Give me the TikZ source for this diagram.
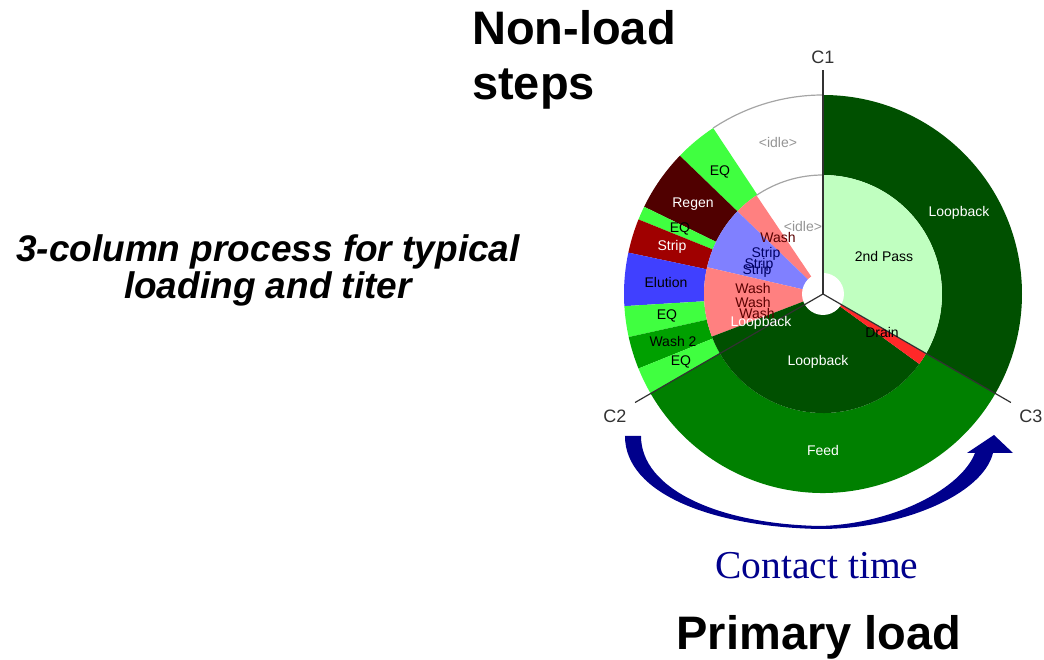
\documentclass[tikz,border=0pt]{standalone}
\usepackage{fontspec}
\setmainfont{Liberation Sans}
\newfontfamily\contactfont{Liberation Serif}
\definecolor{eqgreen}{RGB}{64,255,64}
\definecolor{regenred}{RGB}{80,0,0}
\definecolor{stripred}{RGB}{160,0,0}
\definecolor{elutionblue}{RGB}{64,64,255}
\definecolor{washgreen}{RGB}{0,160,0}
\definecolor{feedgreen}{RGB}{0,128,0}
\definecolor{loopgreen}{RGB}{0,80,0}
\definecolor{passgreen}{RGB}{192,255,192}
\definecolor{washpink}{RGB}{255,128,128}
\definecolor{stripblue}{RGB}{128,128,255}
\definecolor{drainred}{RGB}{255,40,40}
\definecolor{arrownavy}{RGB}{0,0,140}
\definecolor{idlegray}{RGB}{165,165,165}
\definecolor{hubgray}{RGB}{50,50,50}
\definecolor{washtext}{RGB}{90,0,0}
\definecolor{striptext}{RGB}{0,0,100}
\usetikzlibrary{positioning}

\begin{document}
\begin{tikzpicture}[x=1pt,y=1pt,
	lbl/.style={font=\fontsize{14}{15}\selectfont,inner sep=0pt},
	wlbl/.style={lbl,text=white},
	idlelbl/.style={lbl,text=idlegray!90!black},
	collbl/.style={font=\fontsize{18}{20}\selectfont,text=hubgray,inner sep=0pt},
	bigtext/.style={font=\fontsize{47}{50}\selectfont\bfseries,inner sep=0pt},
	sidetext/.style={font=\fontsize{37}{40}\selectfont\bfseries\itshape,inner sep=0pt},
	hubline/.style={hubgray,line width=1.2pt},
	idlearc/.style={idlegray,line width=1.2pt}]
	\useasboundingbox (-823,-366) rectangle (221,294);
	
	% outer ring
	\foreach \a/\b/\c in {123.5/136/eqgreen,136/154/regenred,154/158/eqgreen,
		158/168/stripred,168/183.5/elutionblue,183.5/192.5/eqgreen,
		192.5/202/washgreen,202/210/eqgreen,210/330/feedgreen,330/450/loopgreen}
	\fill[\c] (\a:119) arc[start angle=\a,end angle=\b,radius=119]
		-- (\b:199) arc[start angle=\b,end angle=\a,radius=199] -- cycle;
	% inner ring
	\foreach \a/\b/\c in {124/136/washpink,136/167/stripblue,167/201/washpink,
		201/324/loopgreen,324/330/drainred,330/450/passgreen}
	\fill[\c] (0,0) -- (\a:119) arc[start angle=\a,end angle=\b,radius=119] -- cycle;
	\draw[idlearc] (90:199) arc[start angle=90,end angle=123.5,radius=199];
	\draw[idlearc] (90:119) arc[start angle=90,end angle=124,radius=119];
	
	% hub and column lines
	\coordinate (hub) at (0,0);
	\fill[white] (hub) circle[radius=21];
	\coordinate (c1end) at (90:224);
	\coordinate (c2end) at (210:217);
	\coordinate (c3end) at (330:217);
	\draw[hubline] (hub) -- (c1end);
	\draw[hubline] (hub) -- (c2end);
	\draw[hubline] (hub) -- (c3end);
	\node[collbl] (c1) at (0,237) {C1};
	\node[collbl] (c2) at (-208,-122) {C2};
	\node[collbl] (c3) at (208,-122) {C3};
	
	% outer labels
	\node[idlelbl] (oidle) at (-45,151) {<idle>};
	\node[lbl] (oeq1) at (-103,122) {EQ};
	\node[wlbl] (regen) at (-130,90) {Regen};
	\node[lbl] (oeq2) at (-143,65) {EQ};
	\node[wlbl] (ostrip) at (-151,47) {Strip};
	\node[lbl] (elution) at (-157,12) {Elution};
	\node[lbl] (oeq3) at (-156,-22) {EQ};
	\node[lbl] (wash2) at (-150,-47) {Wash 2};
	\node[lbl] (oeq4) at (-142,-68) {EQ};
	\node[wlbl] (oloop) at (136,81) {Loopback};
	\node[wlbl] (feed) at (0,-156) {Feed};
	
	% inner labels
	\node[idlelbl] (iidle) at (-20,67) {<idle>};
	\node[lbl,text=washtext] (iwash1) at (-45,56) {Wash};
	\node[lbl,text=striptext] (istrip1) at (-57,40) {Strip};
	\node[lbl,text=striptext] (istrip2) at (-64,29) {Strip};
	\node[lbl,text=striptext] (istrip3) at (-66,23) {Strip};
	\node[lbl,text=washtext] (iwash2) at (-70,6) {Wash};
	\node[lbl,text=washtext] (iwash3) at (-70,-8) {Wash};
	\node[lbl,text=washtext] (iwash4) at (-66,-19) {Wash};
	\node[wlbl] (iloop1) at (-62,-29) {Loopback};
	\node[lbl] (pass) at (61,37) {2nd Pass};
	\node[lbl] (drain) at (59,-38) {Drain};
	\node[wlbl] (iloop2) at (-5,-68) {Loopback};
	
	% contact time arrow
	\fill[arrownavy] (-198,-142) .. controls (-198,-200) and (-110,-233) .. (-3,-235)
		.. controls (80,-235) and (160,-200) .. (170,-159)
		-- (190,-159) -- (171,-141) -- (144,-159) -- (152,-159)
		.. controls (138,-195) and (70,-230) .. (-3,-232)
		.. controls (-105,-230) and (-182,-195) .. (-182,-142) -- cycle;
	\node[font=\contactfont\fontsize{39.5}{42}\selectfont,text=arrownavy,
		inner sep=0pt,anchor=base] (contact) at (-6,-285) {Contact time};
	
	% titles
	\node[bigtext,anchor=base west] (nonload) at (-351,249) {Non-load};
	\node[bigtext,anchor=base west] (steps) at (-351,194) {steps};
	\node[bigtext,anchor=base] (primary) at (-4,-355) {Primary load};
	\node[sidetext,anchor=base] (side1) at (-555,32) {3-column process for typical};
	\node[sidetext,anchor=base] (side2) at (-555,-5) {loading and titer};
\end{tikzpicture}
\end{document}
